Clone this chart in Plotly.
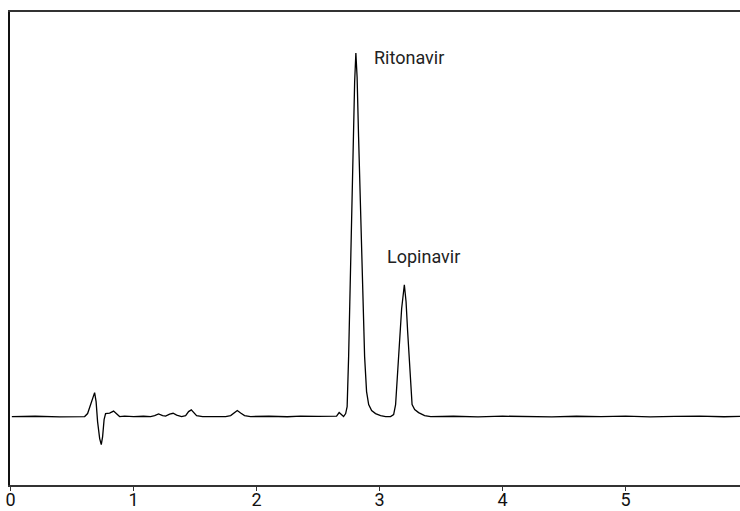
import plotly.graph_objects as go

# Retention time (min) and detector signal (arbitrary units, baseline = 0)
time_min = [
    0.01, 0.20, 0.40, 0.55, 0.602, 0.626, 0.650, 0.667, 0.683, 0.695, 0.707, 0.724, 0.737,
    0.748, 0.760, 0.772, 0.805, 0.837, 0.862, 0.886, 0.927, 1.000, 1.080, 1.138, 1.171,
    1.203, 1.236, 1.260, 1.293, 1.321, 1.350, 1.390, 1.423, 1.447, 1.469, 1.488, 1.512,
    1.561, 1.650, 1.748, 1.789, 1.817, 1.843, 1.870, 1.902, 1.951, 2.100, 2.250, 2.358,
    2.500, 2.602, 2.650, 2.671, 2.691, 2.707, 2.724, 2.736, 2.748, 2.760, 2.772, 2.785,
    2.797, 2.807, 2.817, 2.829, 2.846, 2.862, 2.878, 2.894, 2.911, 2.935, 2.967, 3.008,
    3.049, 3.089, 3.114, 3.130, 3.146, 3.163, 3.179, 3.201, 3.215, 3.228, 3.240, 3.252,
    3.264, 3.285, 3.317, 3.366, 3.415, 3.600, 3.800, 4.000, 4.200, 4.400, 4.600, 4.800,
    5.000, 5.200, 5.400, 5.600, 5.800, 5.935,
]
signal = [
    0.0, 0.3, -0.3, 0.2, 0.0, 3.0, 12.0, 20.0, 24.0, 15.0, -5.0, -22.0, -28.0,
    -20.0, -3.0, 3.0, 3.5, 5.5, 3.0, 0.0, 0.5, 0.0, 0.3, 0.0, 1.0,
    2.7, 1.0, 0.5, 2.5, 3.3, 1.5, 0.0, 1.0, 5.0, 6.7, 4.0, 1.0,
    0.0, 0.3, 0.0, 1.0, 4.0, 6.0, 3.5, 1.0, 0.0, 0.3, -0.2, 0.5,
    0.2, 0.5, 0.5, 4.0, 2.0, 0.0, 3.0, 10.0, 60.0, 130.0, 200.0, 270.0,
    335.0, 364.0, 340.0, 280.0, 200.0, 120.0, 60.0, 25.0, 12.0, 6.0, 3.0, 1.0,
    0.0, 0.0, 2.0, 12.0, 40.0, 75.0, 108.0, 132.0, 115.0, 85.0, 60.0, 30.0,
    12.0, 7.0, 4.0, 1.0, 0.0, 0.3, -0.3, 0.4, 0.0, -0.4, 0.3, 0.0,
    0.5, -0.3, 0.2, 0.4, -0.2, 0.3,
]

peak_names = ["Ritonavir", "Lopinavir"]
label_time = [2.935, 3.041]
label_signal = [359.5, 160.5]

tick_values = [0, 1, 2, 3, 4, 5]
tick_text = ["0", "1", "2", "3", "4", "5"]

FONT = "Roboto, Liberation Sans, Arial, sans-serif"

fig = go.Figure()
fig.add_trace(go.Scatter(
    x=time_min, y=signal, mode="lines",
    line=dict(color="black", width=1.3),
    hoverinfo="skip", showlegend=False,
))

for name, tx, ty in zip(peak_names, label_time, label_signal):
    fig.add_annotation(
        x=tx, y=ty, text=name, showarrow=False,
        xanchor="left", yanchor="middle",
        font=dict(family=FONT, size=18, color="#222222"),
    )

fig.update_layout(
    width=740, height=511,
    margin=dict(l=10, r=0, t=12, b=26, autoexpand=False),
    paper_bgcolor="white", plot_bgcolor="white",
    font=dict(family=FONT, size=18, color="#111111"),
)
fig.update_xaxes(
    range=[-0.005, 5.93], showgrid=False, zeroline=False,
    showline=True, linecolor="#333333", linewidth=1.5, mirror=True,
    ticks="outside", ticklen=4, tickwidth=1.2, tickcolor="#333333",
    tickvals=tick_values, ticktext=tick_text, automargin=False,
    ticklabeloverflow="allow", ticklabelstandoff=-6,
)
fig.update_yaxes(
    range=[-68.5, 405], showgrid=False, zeroline=False,
    showline=True, linecolor="#111111", linewidth=1.5, mirror=False,
    showticklabels=False, ticks="", automargin=False,
)

# remove the default 8px page margin so the 740x511 figure fills the window exactly
fig.write_html(
    "out.html",
    config={"displayModeBar": False},
    post_script="document.body.style.margin='0';document.body.style.overflow='hidden';",
)
